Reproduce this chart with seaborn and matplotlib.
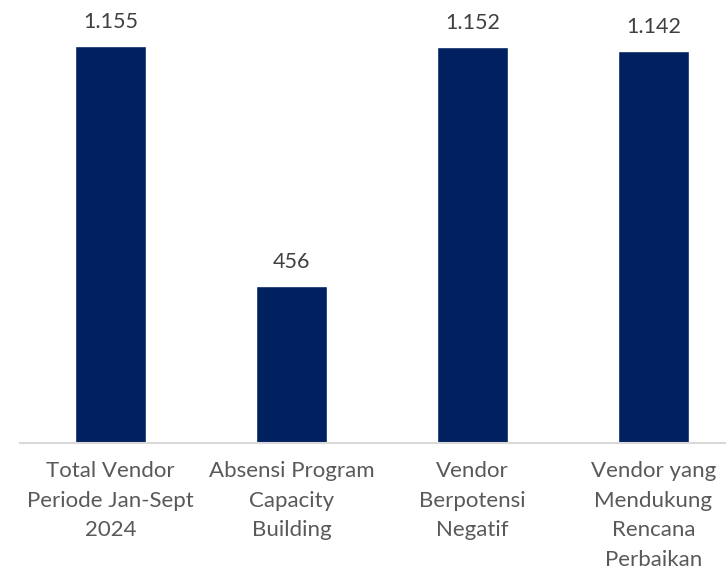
import matplotlib
matplotlib.use('Agg')
import matplotlib.pyplot as plt
import seaborn as sns
import pandas as pd

# --- Datos ---
kategori = ['Total Vendor\nPeriode Jan-Sept\n2024',
            'Absensi Program\nCapacity\nBuilding',
            'Vendor\nBerpotensi\nNegatif',
            'Vendor yang\nMendukung\nRencana\nPerbaikan']
jumlah = [1155, 456, 1152, 1142]
label_nilai = ['1.155', '456', '1.152', '1.142']

df = pd.DataFrame({'kategori': kategori, 'jumlah': jumlah})

sns.set_theme(style='white')
plt.rcParams['font.family'] = ['Lato', 'DejaVu Sans']

fig = plt.figure(figsize=(7.26, 5.71), dpi=100)
# eje un poco más ancho que la figura, como en el original
ax = fig.add_axes([20 / 726, (571 - 443) / 571, 724 / 726, 433 / 571])

sns.barplot(data=df, x='kategori', y='jumlah', color='#002060', width=0.387,
            saturation=1, ax=ax)

ax.set_xlim(-0.5, 3.5)
ax.set_ylim(0, 1260)
ax.set_xlabel('')
ax.set_ylabel('')
ax.set_yticks([])
for s in ['top', 'right', 'left']:
    ax.spines[s].set_visible(False)
ax.spines['bottom'].set_color('#d9d9d9')
ax.spines['bottom'].set_linewidth(1.5)

ax.tick_params(axis='x', length=0, pad=13)
for lbl in ax.get_xticklabels():
    lbl.set_fontsize(16)
    lbl.set_color('#595959')
    lbl.set_linespacing(1.6)
    lbl.set_verticalalignment('top')

for p, txt in zip(ax.patches, label_nilai):
    ax.annotate(txt, (p.get_x() + p.get_width() / 2., p.get_height()),
                ha='center', va='bottom', xytext=(0, 10), textcoords='offset points',
                fontsize=15.5, color='#404040')

plt.savefig('out.png', dpi=100)
